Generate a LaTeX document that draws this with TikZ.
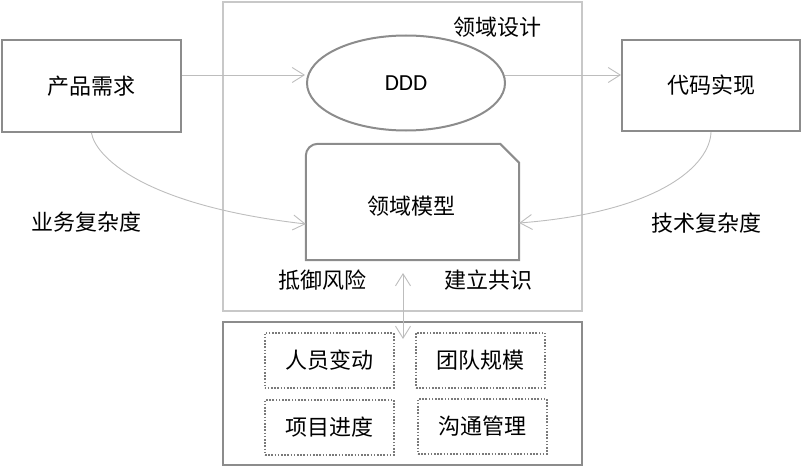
\documentclass[tikz,border=0pt]{standalone}
\usepackage{fontspec}
\setmainfont{Noto Sans CJK SC}
\newfontfamily\latinfont{Carlito}
\usetikzlibrary{arrows.meta,shapes.geometric}
\definecolor{boxgray}{HTML}{8C8C8C}
\definecolor{framegray}{HTML}{C8C8C8}
\definecolor{arrgray}{HTML}{BDBDBD}
\definecolor{dotgray}{HTML}{7A7A7A}
\tikzset{
  txt/.style={font=\fontsize{22}{25}\selectfont, text=black},
  solidbox/.style={draw=boxgray, line width=2pt, rectangle, inner sep=0pt, fill=white, txt},
  framebox/.style={draw=framegray, line width=2.5pt, rectangle, inner sep=0pt},
  dotbox/.style={draw=dotgray, line width=2pt, dash pattern=on 1.6pt off 1.6pt, rectangle, inner sep=0pt, minimum width=129pt, minimum height=55pt, txt},
  arr/.style={draw=arrgray, line width=0.9pt, -{Straight Barb[length=12pt,width=15pt]}},
  darr/.style={draw=arrgray, line width=0.9pt, {Straight Barb[length=12pt,width=15pt]}-{Straight Barb[length=12pt,width=15pt]}},
  lbl/.style={txt, inner sep=0pt}
}
\begin{document}
\begin{tikzpicture}[x=1pt,y=-1pt]
\useasboundingbox (0,0) rectangle (802,468);
% frames
\node[framebox, minimum width=359pt, minimum height=309pt] (frame) at (402.5,156.5) {};
\node[solidbox, minimum width=359pt, minimum height=143pt] (bottom) at (402.5,393.5) {};
% side boxes
\node[solidbox, minimum width=179pt, minimum height=92pt] (prod) at (91.5,86) {};
\node[txt] at (prod.center) {产品需求};
\node[solidbox, minimum width=178pt, minimum height=91pt] (code) at (711,85.5) {};
\node[txt] at (code.center) {代码实现};
% DDD ellipse
\node[draw=boxgray, line width=2pt, ellipse, minimum width=198pt, minimum height=95pt, inner sep=0pt,
      font=\latinfont\fontsize{23}{27}\selectfont] (ddd) at (406,83) {DDD};
% domain model shape
\node[rectangle, minimum width=213pt, minimum height=116pt, inner sep=0pt] (model) at (412.5,202) {};
\draw[draw=boxgray, line width=2pt]
  (model.south west) -- ([yshift=-12pt]model.north west)
  arc[start angle=180, end angle=90, radius=12pt]
  -- ([xshift=-19pt]model.north east) -- ([yshift=-19pt]model.north east)
  -- (model.south east) -- cycle;
\node[txt] at (411,206) {领域模型};
% labels
\node[lbl] (ly) at (497,27) {领域设计};
\node[lbl] (dk) at (322,280) {抵御风险};
\node[lbl] (gs) at (488,280) {建立共识};
\node[lbl] (yw) at (86,222) {业务复杂度};
\node[lbl] (js) at (706,223) {技术复杂度};
% dotted boxes
\node[dotbox] (r1) at (329,360.5) {人员变动};
\node[dotbox] (r2) at (480.5,360) {团队规模};
\node[dotbox] (r3) at (329.5,427.5) {项目进度};
\node[dotbox] (r4) at (482.5,426.5) {沟通管理};
% connectors
\coordinate (ay) at (0,75);
\draw[arr] (prod.east |- ay) -- ([xshift=-1pt]ddd.west |- ay);
\draw[arr] ([xshift=-1pt]ddd.east |- ay) -- (code.west |- ay);
\coordinate (lt) at (306,224);
\coordinate (rt) at (520,223);
\draw[arr] (prod.south) .. controls (95,155) and (140,205) .. (model.west |- lt);
\draw[arr] (code.south) .. controls (710,165) and (660,212) .. (model.east |- rt);
\coordinate (upTip) at (403,273);
\coordinate (downTip) at (403,339);
\draw[darr] (upTip) -- (downTip);
\end{tikzpicture}
\end{document}
